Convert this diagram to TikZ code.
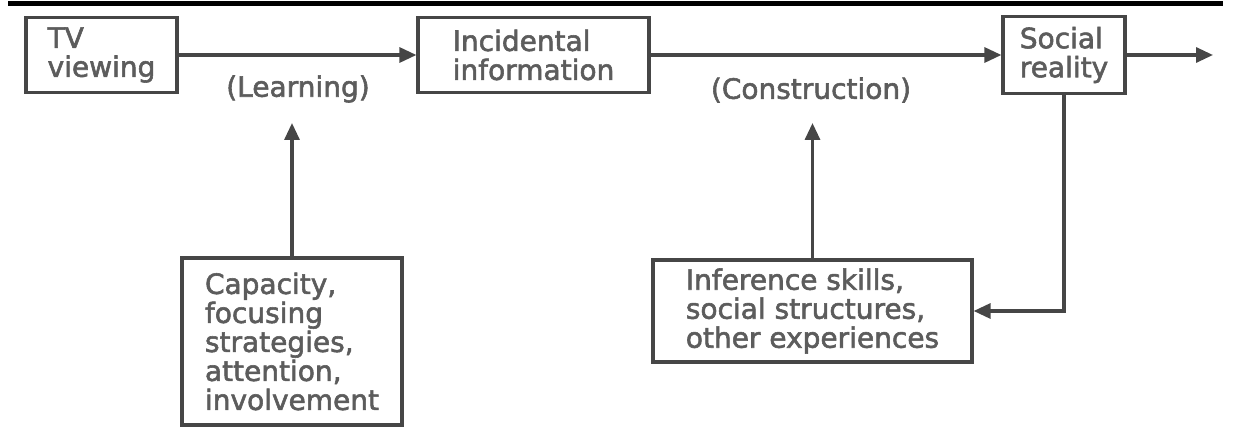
\documentclass[tikz,border=0pt]{standalone}
\usepackage{fontspec}
\setmainfont{DejaVu Sans}[FakeBold=2]
\usetikzlibrary{arrows.meta}
\definecolor{inkgray}{RGB}{70,70,70}
\definecolor{textgray}{RGB}{92,92,92}
\begin{document}
\begin{tikzpicture}
	[x=1pt,y=-1pt,
	box/.style={rectangle,draw=inkgray,line width=3.2pt,fill=white,align=left,text=textgray,font=\fontsize{28}{29}\selectfont,inner sep=0pt},
	plain/.style={draw=none,fill=none,text=textgray,font=\fontsize{28}{29}\selectfont},
	flow/.style={draw=inkgray,line width=3.2pt,-{Triangle[length=17pt,width=15pt]}}
	]
	\useasboundingbox (0,0) rectangle (1258,438);
	\fill (8,1.5) rectangle (1223,6);

	\node[box,minimum width=151pt,minimum height=75pt] (tv) at (101.5,55){TV\\viewing};
	\node[box,minimum width=231pt,minimum height=75pt] (inc) at (533.5,55){Incidental\\information};
	\node[box,minimum width=122pt,minimum height=77pt] (soc) at (1064,55){Social\\reality};
	\node[box,minimum width=220pt,minimum height=167pt] (cap) at (292,341.5){Capacity,\\focusing\\strategies,\\attention,\\involvement};
	\node[box,minimum width=319pt,minimum height=102pt] (inf) at (812.5,311){Inference skills,\\social structures,\\other experiences};

\node[plain] (learn) at (298,89){(Learning)};
\node[plain] (constr) at (811,90){(Construction)};
\coordinate (out) at (1213,55);
\coordinate (learntip) at (292,123);
\coordinate (constrtip) at (812.5,123);

	\draw[flow] (tv) -- (inc);
	\draw[flow] (inc) -- (soc);
	\draw[flow] (soc) -- (out);
	\draw[flow] (cap) -- (learntip);
	\draw[flow] (inf) -- (constrtip);
	\draw[flow] (soc) |- (inf);
\end{tikzpicture}
\end{document}
